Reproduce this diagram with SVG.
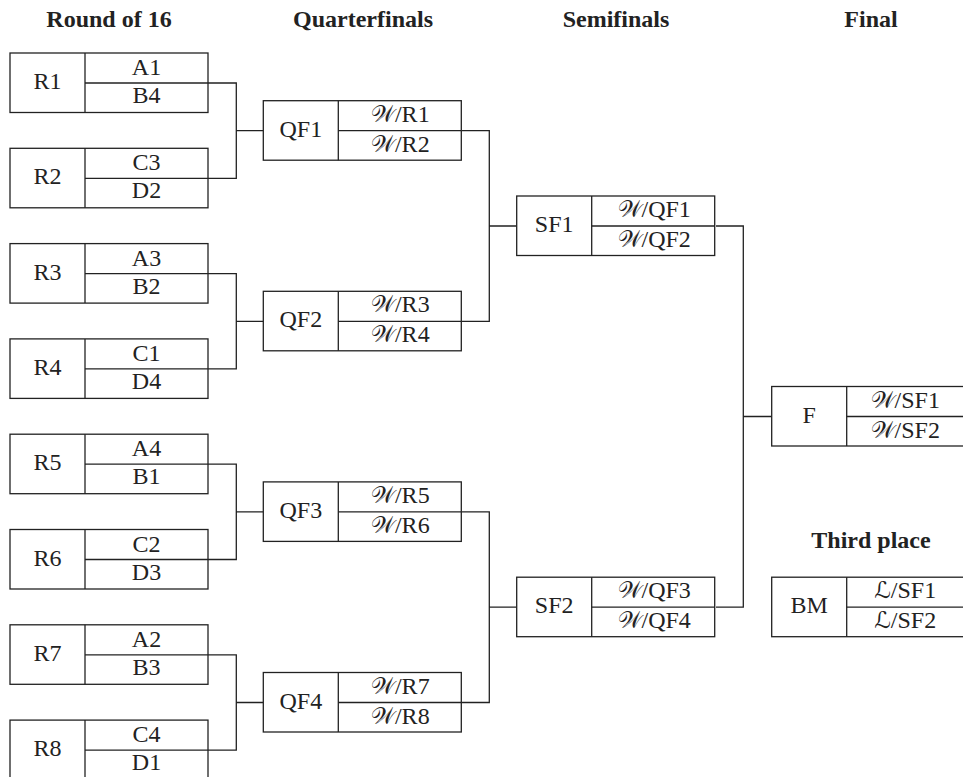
<svg xmlns="http://www.w3.org/2000/svg" width="963" height="777" viewBox="0 0 963 777">
<style>
.box{fill:#fff;stroke:#222;stroke-width:1.3}
.ln{fill:none;stroke:#222;stroke-width:1.3}
.t{font-family:"Liberation Serif","Times New Roman",serif;font-size:24px;fill:#222;text-anchor:middle}
.h{font-family:"Liberation Serif","Times New Roman",serif;font-size:24px;font-weight:bold;fill:#222;text-anchor:middle}
.s{font-family:"DejaVu Serif","DejaVu Sans",serif;font-size:23px}
</style>
<defs>
<g id="cell"><rect class="box" x="0" y="0" width="198" height="59.5"/><line class="ln" x1="75" y1="0" x2="75" y2="59.5"/><line class="ln" x1="75" y1="30" x2="198" y2="30"/></g>
</defs>
<g id="headers">
<text class="h" x="109" y="27">Round of 16</text>
<text class="h" x="363" y="27">Quarterfinals</text>
<text class="h" x="616" y="27">Semifinals</text>
<text class="h" x="871" y="27">Final</text>
<text class="h" x="871" y="548">Third place</text>
</g>
<g id="connectors">
<path class="ln" d="M208 83H236.3V178.3H208M236.3 130.7H263.3"/>
<path class="ln" d="M208 273.6H236.3V368.9H208M236.3 321.3H263.3"/>
<path class="ln" d="M208 464.2H236.3V559.5H208M236.3 511.9H263.3"/>
<path class="ln" d="M208 654.8H236.3V750.1H208M236.3 702.5H263.3"/>
<path class="ln" d="M462 130.7H489.3V321.3H462M489.3 226H516.7"/>
<path class="ln" d="M462 511.9H489.3V702.5H462M489.3 607.2H516.7"/>
<path class="ln" d="M716 226H743.3V607.2H716M743.3 416.5H771.7"/>
</g>
<g id="R1" transform="translate(10,53)"><use href="#cell"/><text class="t" x="37.5" y="36">R1</text><text class="t" x="136.5" y="22">A1</text><text class="t" x="136.5" y="50">B4</text></g>
<g id="R2" transform="translate(10,148.3)"><use href="#cell"/><text class="t" x="37.5" y="36">R2</text><text class="t" x="136.5" y="22">C3</text><text class="t" x="136.5" y="50">D2</text></g>
<g id="R3" transform="translate(10,243.6)"><use href="#cell"/><text class="t" x="37.5" y="36">R3</text><text class="t" x="136.5" y="22">A3</text><text class="t" x="136.5" y="50">B2</text></g>
<g id="R4" transform="translate(10,338.9)"><use href="#cell"/><text class="t" x="37.5" y="36">R4</text><text class="t" x="136.5" y="22">C1</text><text class="t" x="136.5" y="50">D4</text></g>
<g id="R5" transform="translate(10,434.2)"><use href="#cell"/><text class="t" x="37.5" y="36">R5</text><text class="t" x="136.5" y="22">A4</text><text class="t" x="136.5" y="50">B1</text></g>
<g id="R6" transform="translate(10,529.5)"><use href="#cell"/><text class="t" x="37.5" y="36">R6</text><text class="t" x="136.5" y="22">C2</text><text class="t" x="136.5" y="50">D3</text></g>
<g id="R7" transform="translate(10,624.8)"><use href="#cell"/><text class="t" x="37.5" y="36">R7</text><text class="t" x="136.5" y="22">A2</text><text class="t" x="136.5" y="50">B3</text></g>
<g id="R8" transform="translate(10,720.1)"><use href="#cell"/><text class="t" x="37.5" y="36">R8</text><text class="t" x="136.5" y="22">C4</text><text class="t" x="136.5" y="50">D1</text></g>
<g id="QF1" transform="translate(263.3,100.7)"><use href="#cell"/><text class="t" x="37.5" y="36">QF1</text><text class="t" x="137" y="21"><tspan class="s">𝒲</tspan>/R1</text><text class="t" x="137" y="51"><tspan class="s">𝒲</tspan>/R2</text></g>
<g id="QF2" transform="translate(263.3,291.3)"><use href="#cell"/><text class="t" x="37.5" y="36">QF2</text><text class="t" x="137" y="21"><tspan class="s">𝒲</tspan>/R3</text><text class="t" x="137" y="51"><tspan class="s">𝒲</tspan>/R4</text></g>
<g id="QF3" transform="translate(263.3,481.9)"><use href="#cell"/><text class="t" x="37.5" y="36">QF3</text><text class="t" x="137" y="21"><tspan class="s">𝒲</tspan>/R5</text><text class="t" x="137" y="51"><tspan class="s">𝒲</tspan>/R6</text></g>
<g id="QF4" transform="translate(263.3,672.5)"><use href="#cell"/><text class="t" x="37.5" y="36">QF4</text><text class="t" x="137" y="21"><tspan class="s">𝒲</tspan>/R7</text><text class="t" x="137" y="51"><tspan class="s">𝒲</tspan>/R8</text></g>
<g id="SF1" transform="translate(516.7,196)"><use href="#cell"/><text class="t" x="37.5" y="36">SF1</text><text class="t" x="137.5" y="21"><tspan class="s">𝒲</tspan>/QF1</text><text class="t" x="137.5" y="51"><tspan class="s">𝒲</tspan>/QF2</text></g>
<g id="SF2" transform="translate(516.7,577.2)"><use href="#cell"/><text class="t" x="37.5" y="36">SF2</text><text class="t" x="137.5" y="21"><tspan class="s">𝒲</tspan>/QF3</text><text class="t" x="137.5" y="51"><tspan class="s">𝒲</tspan>/QF4</text></g>
<g id="F" transform="translate(771.7,386.5)"><use href="#cell"/><text class="t" x="37.5" y="36">F</text><text class="t" x="133.5" y="21"><tspan class="s">𝒲</tspan>/SF1</text><text class="t" x="133.5" y="51"><tspan class="s">𝒲</tspan>/SF2</text></g>
<g id="BM" transform="translate(771.7,577.2)"><use href="#cell"/><text class="t" x="37.5" y="36">BM</text><text class="t" x="133.5" y="21"><tspan class="s">ℒ</tspan>/SF1</text><text class="t" x="133.5" y="51"><tspan class="s">ℒ</tspan>/SF2</text></g>
</svg>
